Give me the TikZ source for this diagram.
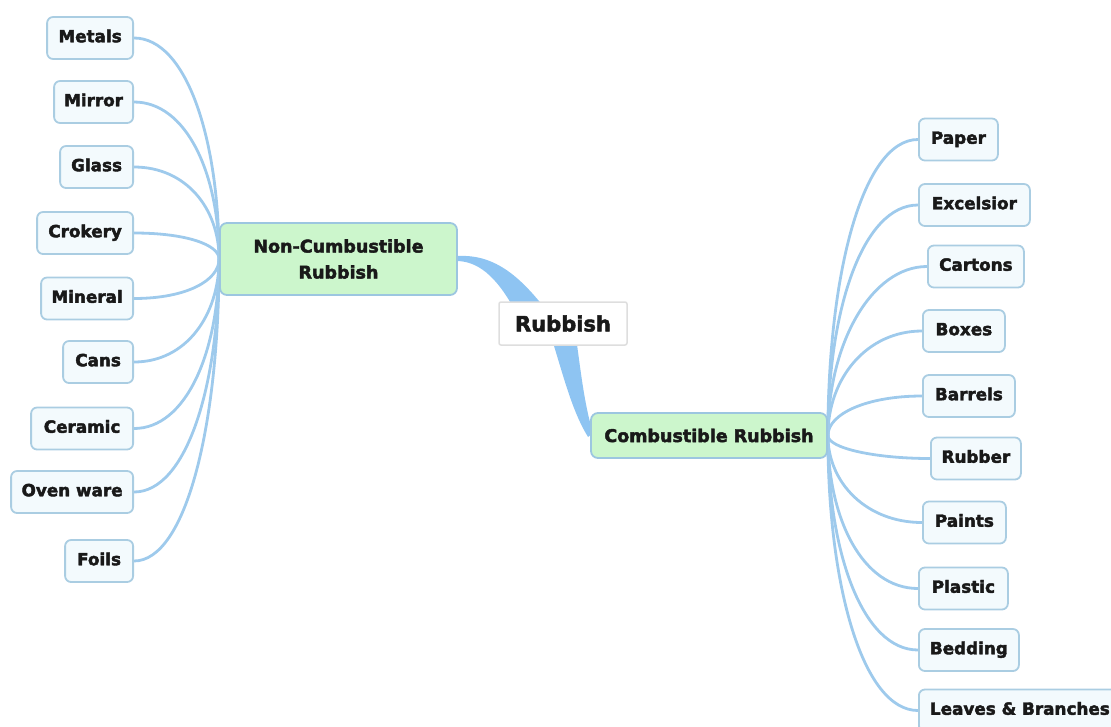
\documentclass[tikz,border=0pt]{standalone}
\usepackage{fontspec}
\setmainfont{DejaVu Sans}
\newfontfamily\heavyfont{DejaVu Sans Bold}[FakeBold=2.5]
\usetikzlibrary{calc}
\pgfdeclarelayer{bg}
\pgfsetlayers{bg,main}
\definecolor{linkblue}{RGB}{158,202,236}
\definecolor{trunkblue}{RGB}{142,196,242}
\definecolor{leafborder}{RGB}{170,205,226}
\definecolor{leaffill}{RGB}{243,250,253}
\definecolor{topicfill}{RGB}{204,246,204}
\definecolor{topicborder}{RGB}{156,198,224}
\definecolor{rootborder}{RGB}{222,222,222}
\definecolor{ink}{RGB}{25,25,25}
\begin{document}
\begin{tikzpicture}[x=1pt,y=-1pt,
  leaf/.style={draw=leafborder, fill=leaffill, line width=1.8pt, rounded corners=6pt,
    minimum height=42pt, inner sep=0pt, text height=12pt, text depth=3.5pt,
    font=\heavyfont\fontsize{16.8}{20}\selectfont, text=ink},
  topic/.style={draw=topicborder, fill=topicfill, line width=1.8pt, rounded corners=7pt,
    inner sep=0pt, align=center, font=\heavyfont\fontsize{17.5}{26}\selectfont, text=ink},
  root/.style={draw=rootborder, fill=white, line width=1.5pt, rounded corners=2pt,
    minimum width=128pt, minimum height=43pt, inner sep=0pt,
    font=\heavyfont\fontsize{21}{25}\selectfont, text=ink},
  link/.style={draw=linkblue, line width=2.8pt},
  trunk/.style={fill=trunkblue}]

\useasboundingbox (0,0) rectangle (1111,726);

% central topic and the two main branches
\node[root] (rb) at (563,323.5) {Rubbish};
\node[topic, minimum width=237pt, minimum height=72pt] (ncr) at (338.5,259) {Non-Cumbustible\\Rubbish};
\node[topic, minimum width=236pt, minimum height=45pt] (cr) at (709,435.5) {Combustible Rubbish};

% non-combustible items
\node[leaf, anchor=east, minimum width=86pt]  (metals)  at (134,38)    {Metals};
\node[leaf, anchor=east, minimum width=79pt]  (mirror)  at (134,102)   {Mirror};
\node[leaf, anchor=east, minimum width=73pt]  (glass)   at (134,167)   {Glass};
\node[leaf, anchor=east, minimum width=96pt]  (crokery) at (134,233)   {Crokery};
\node[leaf, anchor=east, minimum width=92pt]  (mineral) at (134,298.5) {Mineral};
\node[leaf, anchor=east, minimum width=70pt]  (cans)    at (134,362)   {Cans};
\node[leaf, anchor=east, minimum width=102pt] (ceramic) at (134,428.5) {Ceramic};
\node[leaf, anchor=east, minimum width=122pt] (oven)    at (134,492)   {Oven ware};
\node[leaf, anchor=east, minimum width=68pt]  (foils)   at (134,561)   {Foils};

% combustible items
\node[leaf, anchor=west, minimum width=79pt]  (paper)     at (918,139.5) {Paper};
\node[leaf, anchor=west, minimum width=111pt] (excelsior) at (918,205)   {Excelsior};
\node[leaf, anchor=west, minimum width=96pt]  (cartons)   at (927,266.5) {Cartons};
\node[leaf, anchor=west, minimum width=82pt]  (boxes)     at (922,331)   {Boxes};
\node[leaf, anchor=west, minimum width=92pt]  (barrels)   at (922,396)   {Barrels};
\node[leaf, anchor=west, minimum width=90pt]  (rubber)    at (930,458.5) {Rubber};
\node[leaf, anchor=west, minimum width=83pt]  (paints)    at (922,522.5) {Paints};
\node[leaf, anchor=west, minimum width=89pt]  (plastic)   at (918,588.5) {Plastic};
\node[leaf, anchor=west, minimum width=100pt] (bedding)   at (918,650)   {Bedding};
\node[leaf, anchor=west, minimum width=202pt] (leaves)    at (918,710.5) {Leaves \& Branches};

\begin{pgfonlayer}{bg}
  % tapered trunks from the central topic
  \fill[trunk] ($(ncr.east)+(0,-3)$)
      .. controls ($(ncr.east)+(38,-5)$) and ($(rb.center)+(-41,-45.5)$) .. ($(rb.center)+(-13,-8.5)$)
      -- ($(rb.center)+(-43,-3.5)$)
      .. controls ($(rb.center)+(-63,-43.5)$) and ($(ncr.east)+(23,3)$) .. ($(ncr.east)+(0,2)$)
      -- cycle;
  \fill[trunk] ($(rb.center)+(12,6.5)$)
      .. controls ($(rb.center)+(17,41.5)$) and ($(cr.west)+(-6,-30.5)$) .. ($(cr.west)+(3,-2.5)$)
      -- ($(cr.west)+(-2,1.5)$)
      .. controls ($(cr.west)+(-19,-25.5)$) and ($(rb.center)+(-1,46.5)$) .. ($(rb.center)+(-14,6.5)$)
      -- cycle;
  % links to the items
  \foreach \n in {metals,mirror,glass,crokery,mineral,cans,ceramic,oven,foils}
    \draw[link] (\n.east) .. controls ($(\n.east)+(52,0)$) and ($(ncr.west)!0.55!(ncr.west |- \n.east)$) .. (ncr.west);
  \foreach \n in {paper,excelsior,cartons,boxes,barrels,rubber,paints,plastic,bedding,leaves}
    \draw[link] (cr.east) .. controls ($(cr.east)!0.55!(cr.east |- \n.west)$) and ($(\n.west)+(-55,0)$) .. (\n.west);
\end{pgfonlayer}
\end{tikzpicture}
\end{document}
